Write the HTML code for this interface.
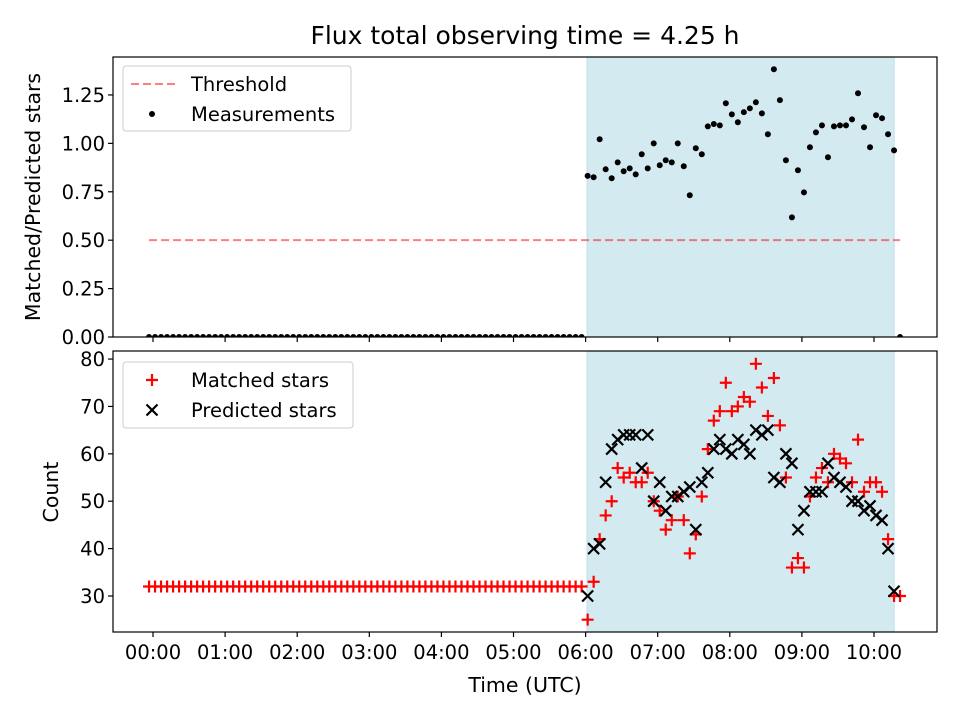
<!DOCTYPE html>
<html><head><meta charset="utf-8"><style>
body{margin:0;background:#fff}
svg{display:block;font-family:"DejaVu Sans","Liberation Sans",sans-serif}
</style></head><body>
<svg id="chart" width="960" height="720" viewBox="0 0 960 720" xmlns="http://www.w3.org/2000/svg">
<defs>
<clipPath id="clipTop"><rect x="113" y="57" width="824" height="280"/></clipPath>
<clipPath id="clipBot"><rect x="113" y="351" width="824" height="281"/></clipPath>
</defs>
<rect width="960" height="720" fill="#fff"/>
<text x="525" y="44" font-size="25" text-anchor="middle">Flux total observing time = 4.25 h</text>
<g id="topPanel"></g>
<g id="botPanel"></g>
<text transform="translate(40,197) rotate(-90)" font-size="20.5" text-anchor="middle">Matched/Predicted stars</text>
<text transform="translate(58,492) rotate(-90)" font-size="20.5" text-anchor="middle">Count</text>
<text x="525" y="692" font-size="20.5" text-anchor="middle">Time (UTC)</text>
</svg>
<script>
const startHour = -0.055;
const stepMinutes = 5;
const ratio = [0,0,0,0,0,0,0,0,0,0,0,0,0,0,0,0,0,0,0,0,0,0,0,0,0,0,0,0,0,0,0,0,0,0,0,0,0,0,0,0,0,0,0,0,0,0,0,0,0,0,0,0,0,0,0,0,0,0,0,0,0,0,0,0,0,0,0,0,0,0,0,0,0,
0.832,0.825,1.021,0.866,0.820,0.902,0.856,0.871,0.840,0.944,0.871,1.000,0.887,0.913,0.902,1.000,0.882,0.732,0.975,0.944,1.088,1.100,1.093,1.207,1.150,1.109,1.161,1.181,1.212,1.155,1.047,1.383,1.223,0.913,0.618,0.861,0.747,0.980,1.057,1.093,0.928,1.088,1.093,1.093,1.124,1.259,1.083,0.980,1.145,1.130,1.047,0.964,
0];
const matched = [32,32,32,32,32,32,32,32,32,32,32,32,32,32,32,32,32,32,32,32,32,32,32,32,32,32,32,32,32,32,32,32,32,32,32,32,32,32,32,32,32,32,32,32,32,32,32,32,32,32,32,32,32,32,32,32,32,32,32,32,32,32,32,32,32,32,32,32,32,32,32,32,32,
25,33,42,47,50,57,55,56,54,54,56,50,48,44,46,51,46,39,43,51,61,67,69,75,69,70,72,71,79,74,68,76,66,55,36,38,36,51,55,57,54,60,59,58,54,63,52,54,54,52,42,30,
30];
const predicted = [null,null,null,null,null,null,null,null,null,null,null,null,null,null,null,null,null,null,null,null,null,null,null,null,null,null,null,null,null,null,null,null,null,null,null,null,null,null,null,null,null,null,null,null,null,null,null,null,null,null,null,null,null,null,null,null,null,null,null,null,null,null,null,null,null,null,null,null,null,null,null,null,null,
30,40,41,54,61,63,64,64,64,57,64,50,54,48,51,51,52,53,44,54,56,61,63,61,60,63,62,60,65,64,65,55,54,60,58,44,48,52,52,52,58,55,54,53,50,50,48,49,47,46,40,31,
null];
const threshold = [0.5];
const observingSpan = [6.02, 10.28];
const xTickLabels = ["00:00","01:00","02:00","03:00","04:00","05:00","06:00","07:00","08:00","09:00","10:00"];
const topTicks = [0,0.25,0.5,0.75,1.0,1.25];
const botTicks = [30,40,50,60,70,80];

const NS="http://www.w3.org/2000/svg";
function mk(parent,tag,attrs){const e=document.createElementNS(NS,tag);for(const k in attrs)e.setAttribute(k,attrs[k]);parent.appendChild(e);return e;}
const X0=113,X1=937,xmin=-0.555,xmax=10.874;
const xs=h=>X0+(h-xmin)/(xmax-xmin)*(X1-X0);
const TY0=57,TY1=337,tmin=0,tmax=1.446;
const yt=v=>TY1-(v-tmin)/(tmax-tmin)*(TY1-TY0);
const BY0=351,BY1=632,bmin=22.4,bmax=81.7;
const yb=v=>BY1-(v-bmin)/(bmax-bmin)*(BY1-BY0);
const timeAt=i=>startHour+i*stepMinutes/60;

const topG=document.getElementById('topPanel'), botG=document.getElementById('botPanel');

function panel(g,y0,y1,clip){
  const s=mk(g,'rect',{x:xs(observingSpan[0]),y:y0,width:xs(observingSpan[1])-xs(observingSpan[0]),height:y1-y0,fill:'#d4eaf1',stroke:'#bddfea','stroke-width':1});
  
  
  const d=mk(g,'g',{'clip-path':'url(#'+clip+')'});
  return d;
}
function frame(g,y0,y1,ticks,ys,fmt,withLabels){
  xTickLabels.forEach((lab,i)=>{
    const x=xs(i);
    mk(g,'line',{x1:x,x2:x,y1:y1,y2:y1+5,stroke:'#000','stroke-width':1.2});
    if(withLabels){const t=mk(g,'text',{x:x,y:y1+27,'font-size':19.5,'text-anchor':'middle'});t.textContent=lab;
      
      }
  });
  ticks.forEach(v=>{
    const y=ys(v);
    mk(g,'line',{x1:X0-5,x2:X0,y1:y,y2:y,stroke:'#000','stroke-width':1.2});
    const t=mk(g,'text',{x:X0-8,y:y+7,'font-size':19.5,'text-anchor':'end'});t.textContent=fmt(v);
    
    
  });
  mk(g,'rect',{x:X0,y:y0,width:X1-X0,height:y1-y0,fill:'none',stroke:'#000','stroke-width':1.2});
}
function plus(g,x,y,c){return mk(g,'path',{d:`M${x-6},${y}H${x+6}M${x},${y-6}V${y+6}`,stroke:c,'stroke-width':2.2,fill:'none'});}
function cross(g,x,y,c){return mk(g,'path',{d:`M${x-5.5},${y-5.5}L${x+5.5},${y+5.5}M${x-5.5},${y+5.5}L${x+5.5},${y-5.5}`,stroke:c,'stroke-width':2.2,fill:'none'});}

// top panel
const td=panel(topG,TY0,TY1,'clipTop');
const thr=mk(td,'line',{x1:xs(timeAt(0)),x2:xs(timeAt(ratio.length-1)),y1:yt(threshold[0]),y2:yt(threshold[0]),stroke:'#ff0000','stroke-opacity':0.5,'stroke-width':2,'stroke-dasharray':'8,4'});


ratio.forEach((v,i)=>{
  const c=mk(td,'circle',{cx:xs(timeAt(i)),cy:yt(v),r:3,fill:'#000'});
  
  
});
frame(topG,TY0,TY1,topTicks,yt,v=>v.toFixed(2),false);

// bottom panel
const bd=panel(botG,BY0,BY1,'clipBot');
matched.forEach((v,i)=>{ if(v==null)return;
  const p=plus(bd,xs(timeAt(i)),yb(v),'#ff0000');
  
  
});
predicted.forEach((v,i)=>{ if(v==null)return;
  const p=cross(bd,xs(timeAt(i)),yb(v),'#000');
  
  
});
frame(botG,BY0,BY1,botTicks,yb,v=>String(v),true);

// legends
function legend(g,y,h,w,items){
  const lg=mk(g,'g',{});
  
  
  mk(lg,'rect',{x:123,y:y,width:w,height:h,rx:3,fill:'#fff','fill-opacity':0.8,stroke:'#ccc','stroke-width':1});
  items.forEach((it,k)=>{
    const cy=y+18+k*30;
    it.draw(lg,152,cy);
    const t=mk(lg,'text',{x:191,y:cy+7,'font-size':19.5});t.textContent=it.label;
    
    
  });
}
legend(topG,66,65,228,[
  {label:'Threshold',draw:(g,x,y)=>mk(g,'line',{x1:x-21,x2:x+23,y1:y,y2:y,stroke:'#ff0000','stroke-opacity':0.5,'stroke-width':2,'stroke-dasharray':'8,4'})},
  {label:'Measurements',draw:(g,x,y)=>mk(g,'circle',{cx:x,cy:y,r:3,fill:'#000'})}
]);
legend(botG,362,66,230,[
  {label:'Matched stars',draw:(g,x,y)=>plus(g,x,y,'#ff0000')},
  {label:'Predicted stars',draw:(g,x,y)=>cross(g,x,y,'#000')}
]);
</script>
</body></html>
